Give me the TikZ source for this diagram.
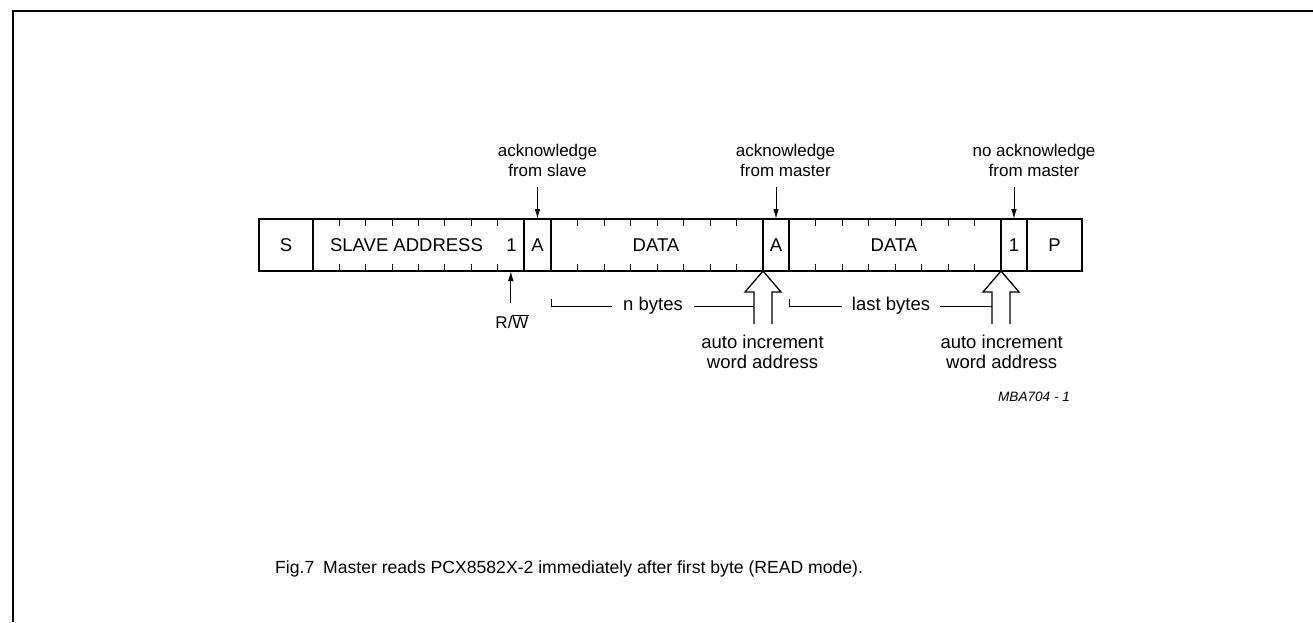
\documentclass[tikz,border=0pt]{standalone}
\usepackage{fontspec}
\setmainfont{Liberation Sans}
\usetikzlibrary{calc,arrows.meta}
\begin{document}
\begin{tikzpicture}[x=1pt,y=-1pt,
  cell/.style={draw,line width=1.4pt,minimum height=52pt,inner sep=0pt,outer sep=0pt,font=\fontsize{18.5}{20}\selectfont},
  lbl/.style={font=\fontsize{17}{20}\selectfont,align=center,inner sep=0pt},
  blbl/.style={font=\fontsize{18.5}{20}\selectfont,align=center,inner sep=0pt},
  tickmark/.style={line width=1pt},
  ack/.style={line width=1pt,-{Latex[length=10pt,width=5.5pt]}},
  hollow/.style={line width=1.3pt,line join=miter},
  brk/.style={line width=1pt}]
\useasboundingbox (0,0) rectangle (1313,622);
% outer frame (cut off at right and bottom)
\draw[line width=2.8pt] (13,622) -- (13,11) -- (1313,11);

% frame cells
\node[cell,minimum width=54pt]  (S)  at (286,245)    {S};
\node[cell,minimum width=211pt] (AD) at (418.5,245)  {};
\node[cell,minimum width=27pt]  (A1) at (537.5,245)  {A};
\node[cell,minimum width=212pt] (D1) at (657,245)    {};
\node[cell,minimum width=26pt]  (A2) at (776,245)    {A};
\node[cell,minimum width=212pt] (D2) at (895,245)    {};
\node[cell,minimum width=26pt]  (B1) at (1014,245)   {1};
\node[cell,minimum width=55pt]  (P)  at (1054.5,245) {P};
\node[blbl] (sa)  at (406.5,245) {SLAVE ADDRESS};
\node[blbl] (rw1) at (511.4,245) {1};
\node[blbl] (dt1) at (656,245)   {DATA};
\node[blbl] (dt2) at (894,245)   {DATA};

% bit ticks
\foreach \n in {AD,D1,D2} {
  \foreach \k in {1,...,7} {
    \draw[tickmark] ($(\n.north west)!{\k/8}!(\n.north east)$) -- ++(0,7);
    \draw[tickmark] ($(\n.south west)!{\k/8}!(\n.south east)$) -- ++(0,-7);
  }
}

% top labels and acknowledge arrows
\node[lbl] (L1) at (547.5,160) {acknowledge\\from slave};
\node[lbl] (L2) at (785.5,160) {acknowledge\\from master};
\node[lbl] (L3) at (1034,160)  {no acknowledge\\from master};
\coordinate (t1) at ($(A1.north)+(0,-32)$);
\coordinate (t2) at ($(A2.north)+(0,-32)$);
\coordinate (t3) at ($(B1.north)+(0,-32)$);
\draw[ack] (t1) -- (A1.north);
\draw[ack] (t2) -- (A2.north);
\draw[ack] (t3) -- (B1.north);

% R/W arrow
\coordinate (rwp) at ($(AD.south west)!{15/16}!(AD.south east)$);
\coordinate (rwt) at ($(rwp)+(0,32)$);
\node[lbl] (rw) at (512,322) {R/$\overline{\mbox{W}}$};
\draw[ack] (rwt) -- (rwp);

% hollow arrows
\draw[hollow] ($(A2.south west)+(-9,53)$) -- ++(0,-32) -- ++(-9,0) -- (A2.south west)
   -- ++(18,21) -- ++(-9,0) -- ++(0,32);
\draw[hollow] ($(B1.south west)+(-9,53)$) -- ++(0,-32) -- ++(-9,0) -- (B1.south west)
   -- ++(18,21) -- ++(-9,0) -- ++(0,32);
\coordinate (sh1) at ($(A2.south west)+(-9,0)$);
\coordinate (sh2) at ($(B1.south west)+(-9,0)$);

% byte brackets
\node[blbl,inner xsep=11pt] (nb) at (653,306) {n bytes};
\draw[brk] ($(nb.west -| D1.south west)+(0,-7)$) -- (nb.west -| D1.south west) -- (nb.west);
\draw[brk] (nb.east) -- (nb.east -| sh1);
\node[blbl,inner xsep=10pt] (lb) at (891,306) {last bytes};
\draw[brk] ($(lb.west -| D2.south west)+(0,-7)$) -- (lb.west -| D2.south west) -- (lb.west);
\draw[brk] (lb.east) -- (lb.east -| sh2);

% bottom labels
\node[blbl] (ai1) at (762.5,352)  {auto increment\\word address};
\node[blbl] (ai2) at (1001.7,352) {auto increment\\word address};
\node[lbl,font=\fontsize{13.6}{15}\selectfont\itshape] (mba) at (1034,397) {MBA704 - 1};

% caption
\node[anchor=west,inner sep=0pt,font=\fontsize{17.6}{20}\selectfont] (cap) at (275,569)
  {Fig.7\hspace{0.5em}Master reads PCX8582X-2 immediately after first byte (READ mode).};
\end{tikzpicture}
\end{document}
